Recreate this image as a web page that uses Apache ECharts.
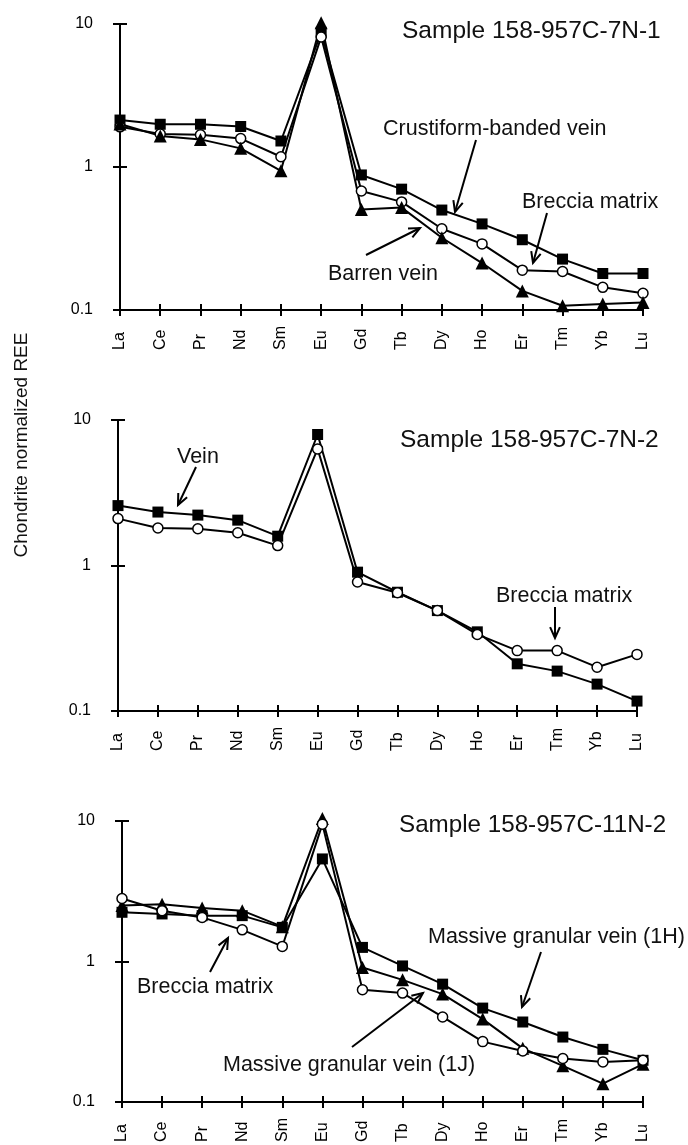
<!DOCTYPE html>
<html><head><meta charset="utf-8">
<script src="https://cdn.jsdelivr.net/npm/echarts@6/dist/echarts.min.js"></script>
<style>html,body{margin:0;padding:0;background:#fff}#c{width:688px;height:1145px}</style>
</head><body><div id="c"></div>
<script>
// ---------- DATA ----------
const categories = ['La','Ce','Pr','Nd','Sm','Eu','Gd','Tb','Dy','Ho','Er','Tm','Yb','Lu'];
const yTickLabels = ['0.1','1','10'];

// Panel 1: Sample 158-957C-7N-1
const p1Crustiform = [2.13, 1.99, 1.99, 1.92, 1.52, 8.75, 0.88, 0.70, 0.50, 0.40, 0.31, 0.227, 0.18, 0.18];
const p1Breccia    = [1.91, 1.70, 1.68, 1.58, 1.18, 8.1, 0.68, 0.57, 0.37, 0.29, 0.19, 0.186, 0.144, 0.131];
const p1Barren     = [2.0, 1.65, 1.56, 1.35, 0.94, 10.2, 0.505, 0.52, 0.32, 0.213, 0.136, 0.107, 0.11, 0.113];

// Panel 2: Sample 158-957C-7N-2
const p2Vein    = [2.58, 2.33, 2.22, 2.05, 1.59, 7.95, 0.90, 0.655, 0.49, 0.35, 0.211, 0.188, 0.153, 0.117];
const p2Breccia = [2.10, 1.81, 1.79, 1.68, 1.37, 6.33, 0.77, 0.65, 0.49, 0.336, 0.26, 0.26, 0.20, 0.245];

// Panel 3: Sample 158-957C-11N-2
const p3Vein1H  = [2.24, 2.18, 2.12, 2.12, 1.75, 5.37, 1.26, 0.93, 0.69, 0.466, 0.371, 0.29, 0.237, 0.198];
const p3Vein1J  = [2.5, 2.56, 2.40, 2.30, 1.77, 10.4, 0.906, 0.74, 0.586, 0.389, 0.241, 0.181, 0.135, 0.186];
const p3Breccia = [2.81, 2.30, 2.06, 1.68, 1.28, 9.5, 0.63, 0.596, 0.403, 0.269, 0.231, 0.204, 0.193, 0.198];

const titles = ['Sample 158-957C-7N-1', 'Sample 158-957C-7N-2', 'Sample 158-957C-11N-2'];
const yAxisTitle = 'Chondrite normalized REE';

// ---------- LAYOUT / STYLE ----------
const FONT = '"Liberation Sans", Arial, Helvetica, sans-serif';
const grids = [
  {left:120, top:24, width:523, height:286},
  {left:118, top:420, width:519, height:291},
  {left:122, top:821, width:521, height:281}
];
const blk = '#000';

const xAxes = [], yAxes = [];
grids.forEach((g, i) => {
  xAxes.push({
    gridIndex:i, type:'category', data:categories, boundaryGap:false, position:'bottom',
    axisLine:{show:true, onZero:false, lineStyle:{color:blk, width:2}},
    axisTick:{show:true, length:6, lineStyle:{color:blk, width:2}},
    axisLabel:{show:true, rotate:90, align:'left', margin:40, fontSize:16, color:blk, fontFamily:FONT, interval:0},
    splitLine:{show:false}
  });
  xAxes.push({
    gridIndex:i, type:'category', data:categories, boundaryGap:false, position:'bottom',
    axisLine:{show:false, onZero:false},
    axisTick:{show:true, inside:true, length:6, lineStyle:{color:blk, width:2}},
    axisLabel:{show:false}, splitLine:{show:false}
  });
  yAxes.push({
    gridIndex:i, type:'log', logBase:10, min:0.1, max:10, position:'left',
    axisLine:{show:true, lineStyle:{color:blk, width:2}},
    axisTick:{show:true, length:7, lineStyle:{color:blk, width:2}},
    axisLabel:{show:true, fontSize:16, color:blk, fontFamily:FONT, margin:27,
      formatter:(v, idx) => yTickLabels[idx]},
    splitLine:{show:false}, minorTick:{show:false}
  });
  yAxes.push({
    gridIndex:i, type:'log', logBase:10, min:0.1, max:10, position:'left',
    axisLine:{show:false},
    axisTick:{show:true, inside:true, length:7, lineStyle:{color:blk, width:2}},
    axisLabel:{show:false}, splitLine:{show:false}, minorTick:{show:false}
  });
});

const markers = {
  square:  {symbol:'rect', symbolSize:11, itemStyle:{color:blk, borderColor:blk, borderWidth:0}},
  circle:  {symbol:'circle', symbolSize:10, itemStyle:{color:'#fff', borderColor:blk, borderWidth:1.5}},
  triangle:{symbol:'triangle', symbolSize:13, itemStyle:{color:blk, borderColor:blk, borderWidth:0}}
};
function mkSeries(name, data, panel, mk){
  return Object.assign({
    name, type:'line', data, xAxisIndex:panel*2, yAxisIndex:panel*2,
    showAllSymbol:true, clip:false, silent:true,
    lineStyle:{color:blk, width:2}
  }, markers[mk]);
}
const series = [
  mkSeries('Crustiform-banded vein', p1Crustiform, 0, 'square'),
  mkSeries('Breccia matrix', p1Breccia, 0, 'circle'),
  mkSeries('Barren vein', p1Barren, 0, 'triangle'),
  mkSeries('Vein', p2Vein, 1, 'square'),
  mkSeries('Breccia matrix', p2Breccia, 1, 'circle'),
  mkSeries('Massive granular vein (1H)', p3Vein1H, 2, 'square'),
  mkSeries('Massive granular vein (1J)', p3Vein1J, 2, 'triangle'),
  mkSeries('Breccia matrix', p3Breccia, 2, 'circle')
];

// ---------- ANNOTATIONS ----------
function txt(text, x, y, size){
  return {type:'text', x, y, z:100, style:{text, fontSize:size, fontFamily:FONT, fill:'#111',
    align:'left', verticalAlign:'middle', textAlign:'left', textVerticalAlign:'middle'}};
}
function arrow(x1,y1,x2,y2){
  const a = Math.atan2(y2-y1, x2-x1), L = 12, w = 0.42;
  const h1 = [x2 - L*Math.cos(a-w), y2 - L*Math.sin(a-w)];
  const h2 = [x2 - L*Math.cos(a+w), y2 - L*Math.sin(a+w)];
  return [
    {type:'line', z:100, shape:{x1,y1,x2,y2}, style:{stroke:blk, lineWidth:2}},
    {type:'polyline', z:100, shape:{points:[h1,[x2,y2],h2]}, style:{stroke:blk, lineWidth:2, fill:null}}
  ];
}
const graphic = [
  txt(titles[0], 402, 31, 24.5),
  txt('Crustiform-banded vein', 383, 129, 21.5),
  txt('Breccia matrix', 522, 202, 21.5),
  txt('Barren vein', 328, 274, 21.5),
  ...arrow(476,140,455,212),
  ...arrow(547,213,533,263),
  ...arrow(366,255,420,228),

  txt(titles[1], 400, 440, 24.5),
  txt('Vein', 177, 457, 21.5),
  txt('Breccia matrix', 496, 596, 21.5),
  ...arrow(196,467,178,505),
  ...arrow(555,607,555,638),

  txt(titles[2], 399, 825, 24.2),
  txt('Massive granular vein (1H)', 428, 937, 21.5),
  txt('Breccia matrix', 137, 987, 21.5),
  txt('Massive granular vein (1J)', 223, 1065, 21.5),
  ...arrow(541,952,522,1007),
  ...arrow(210,972,228,938),
  ...arrow(352,1047,423,993),

  {type:'text', x:22, y:445, rotation:Math.PI/2, z:100,
   style:{text:yAxisTitle, fontSize:19, fontFamily:FONT, fill:'#111',
     align:'center', verticalAlign:'middle', textAlign:'center', textVerticalAlign:'middle'}}
];

const chart = echarts.init(document.getElementById('c'), null, {renderer:'canvas'});
chart.setOption({
  animation:false,
  backgroundColor:'#fff',
  grid: grids.map(g => Object.assign({containLabel:false}, g)),
  xAxis: xAxes,
  yAxis: yAxes,
  series,
  graphic
});
</script>
</body></html>
